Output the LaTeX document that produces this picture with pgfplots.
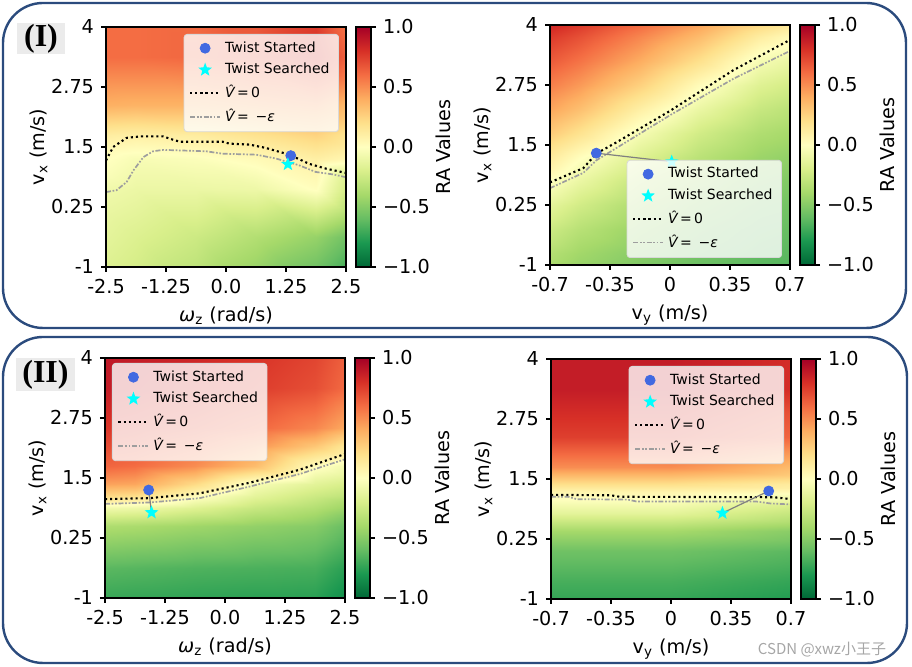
\documentclass[border=0pt]{standalone}
\usepackage{pgfplots}
\pgfplotsset{compat=1.18}
\usepackage{fontspec}
\setmainfont{DejaVu Sans}
\newfontfamily\serifbf{Liberation Serif}
\newfontfamily\cjk{Noto Sans CJK SC}
\newcommand\tfont{\fontsize{9.6}{11}\selectfont}
\newcommand\lfont{\fontsize{7}{8}\selectfont}
\definecolor{boxblue}{HTML}{2B4B7D}
\definecolor{started}{HTML}{4169E1}
\definecolor{aqua}{RGB}{0,255,255}

\pgfdeclareplotmark{fstar}{%
  \pgfpathmoveto{\pgfpointpolar{90}{\pgfplotmarksize}}%
  \pgfpathlineto{\pgfpointpolar{126}{0.42\pgfplotmarksize}}%
  \pgfpathlineto{\pgfpointpolar{162}{\pgfplotmarksize}}%
  \pgfpathlineto{\pgfpointpolar{198}{0.42\pgfplotmarksize}}%
  \pgfpathlineto{\pgfpointpolar{234}{\pgfplotmarksize}}%
  \pgfpathlineto{\pgfpointpolar{270}{0.42\pgfplotmarksize}}%
  \pgfpathlineto{\pgfpointpolar{306}{\pgfplotmarksize}}%
  \pgfpathlineto{\pgfpointpolar{342}{0.42\pgfplotmarksize}}%
  \pgfpathlineto{\pgfpointpolar{18}{\pgfplotmarksize}}%
  \pgfpathlineto{\pgfpointpolar{54}{0.42\pgfplotmarksize}}%
  \pgfpathclose
  \pgfusepathqfill
}

\pgfplotsset{
  colormap={rdylgnr}{rgb255=(0,104,55) rgb255=(26,152,80) rgb255=(102,189,99) rgb255=(166,217,106) rgb255=(217,239,139) rgb255=(255,255,191) rgb255=(254,224,139) rgb255=(253,174,97) rgb255=(244,109,67) rgb255=(215,48,39) rgb255=(165,0,38)},
  panel/.style={
    scale only axis, width=120pt, height=120pt,
    anchor=south west,
    axis on top,
    ymin=-1, ymax=4,
    ytick={-1,0.25,1.5,2.75,4}, yticklabels={-1,0.25,1.5,2.75,4},
    tick align=outside, xtick pos=bottom, ytick pos=left,
    major tick length=2.5pt,
    axis line style={line width=0.6pt},
    every tick/.style={black, line width=0.6pt},
    tick label style={font=\tfont},
    label style={font=\tfont},
    ylabel={v\textsubscript{x} (m/s)},
    ylabel style={yshift=-5pt},
    colormap name=rdylgnr, point meta min=-1, point meta max=1,
    colorbar,
    colorbar style={
      at={(parent axis.north east)}, anchor=north west, xshift=-3.5pt,
      width=7.5pt, scale only axis, height=120pt,
      ytick={-1,-0.5,0,0.5,1}, yticklabels={−1.0,−0.5,0.0,0.5,1.0},
      ylabel={RA Values},
      tick label style={font=\tfont}, label style={font=\tfont},
      ylabel style={yshift=4pt},
      tick align=outside, ytick pos=right, yticklabel pos=right,
      major tick length=2.5pt, axis line style={line width=0.6pt},
      every tick/.style={black, line width=0.6pt},
    },
    legend cell align=left,
    legend image code/.code={\draw[mark repeat=2,mark phase=2,##1] plot coordinates {(0pt,0pt) (7.5pt,0pt) (15pt,0pt)};},
    legend image post style={fill opacity=1, draw opacity=1},
    legend style={font=\lfont, fill=white, fill opacity=0.8, text opacity=1, draw=black!15, rounded corners=1.5pt, inner xsep=2.5pt, inner ysep=1.5pt, row sep=0pt},
  },
  leftpanel/.style={panel, xmin=-2.5, xmax=2.5,
    xtick={-2.5,-1.25,0,1.25,2.5}, xticklabels={-2.5,-1.25,0.0,1.25,2.5},
    xlabel={\textit{ω}\textsubscript{z} (rad/s)}},
  rightpanel/.style={panel, xmin=-0.7, xmax=0.7,
    xtick={-0.7,-0.35,0,0.35,0.7}, xticklabels={-0.7,-0.35,0,0.35,0.7},
    xlabel={v\textsubscript{y} (m/s)}},
  heat/.style={matrix plot*, shader=interp, point meta=explicit, forget plot},
  zeroline/.style={black, line width=1.05pt, dash pattern=on 1.05pt off 1.5pt},
  epsline/.style={black!38, line width=0.85pt, dash pattern=on 2.5pt off 0.85pt on 0.85pt off 0.85pt on 0.85pt off 0.85pt},
  link/.style={gray, line width=0.6pt, forget plot},
  startpt/.style={only marks, mark=*, mark size=2.5pt, color=started, mark options={draw=started, fill=started}},
  searchpt/.style={only marks, mark=fstar, mark size=3.6pt, color=aqua, mark options={fill=aqua}},
}

\begin{document}
\begin{tikzpicture}[x=1pt,y=1pt]
\useasboundingbox (0,0) rectangle (456,333.5);
% panel boxes
\draw[boxblue, line width=1.2pt, rounded corners=20pt] (1.5,332) rectangle (453,169.5);
\draw[boxblue, line width=1.2pt, rounded corners=20pt] (1.5,165) rectangle (453.5,2);

% ---------------- (I) left
\begin{axis}[leftpanel, at={(53pt,200pt)},
  legend style={at={(1,1)}, anchor=north east, xshift=-3.5pt, yshift=-3.5pt}]
\addplot[heat, mesh/cols=5] table[meta=c]{
x y c
-2.5 -1 -0.12
-1.25 -1 -0.25
0 -1 -0.36
1.25 -1 -0.52
2.5 -1 -0.68
-2.5 0.25 -0.10
-1.25 0.25 -0.18
0 0.25 -0.25
1.25 0.25 -0.35
2.5 0.25 -0.45
-2.5 1.0 -0.05
-1.25 1.0 -0.10
0 1.0 -0.10
1.25 1.0 -0.09
2.5 1.0 0.01
-2.5 1.5 0.05
-1.25 1.5 -0.04
0 1.5 -0.02
1.25 1.5 0.03
2.5 1.5 0.10
-2.5 2.0 0.13
-1.25 2.0 0.10
0 2.0 0.12
1.25 2.0 0.18
2.5 2.0 0.25
-2.5 2.75 0.40
-1.25 2.75 0.38
0 2.75 0.38
1.25 2.75 0.42
2.5 2.75 0.46
-2.5 4 0.60
-1.25 4 0.60
0 4 0.62
1.25 4 0.70
2.5 4 0.82
};
\addplot[zeroline, forget plot] coordinates {(-2.5,1.22) (-2.35,1.50) (-2.07,1.69) (-1.79,1.72) (-1.31,1.72) (-1.10,1.65) (-0.96,1.61) (-0.07,1.61) (0.07,1.57) (0.49,1.55) (0.83,1.48) (1.32,1.34) (1.73,1.15) (2.08,1.05) (2.5,0.96)};
\addplot[epsline, forget plot] coordinates {(-2.5,0.56) (-2.28,0.60) (-2.07,0.77) (-1.93,1.01) (-1.72,1.29) (-1.52,1.41) (-1.31,1.44) (-0.41,1.41) (-0.07,1.36) (0.63,1.34) (1.04,1.26) (1.52,1.12) (1.87,0.98) (2.22,0.93) (2.5,0.87)};
\addplot[link] coordinates {(1.35,1.32) (1.29,1.14)};
\addplot[startpt] coordinates {(1.35,1.32)};
\addlegendentry{Twist Started}
\addplot[searchpt] coordinates {(1.29,1.14)};
\addlegendentry{Twist Searched}
\addlegendimage{zeroline}
\addlegendentry{\textit{\^{V}}\,=\,0}
\addlegendimage{epsline}
\addlegendentry{\textit{\^{V}}\,= \,−\textit{ε}}
\end{axis}

% ---------------- (I) right
\begin{axis}[rightpanel, at={(275pt,201pt)},
  legend style={at={(1,0)}, anchor=south east, xshift=-4pt, yshift=3.5pt}]
\addplot[heat, mesh/cols=5] table[meta=c]{
x y c
-0.7 -1 -0.37
-0.35 -1 -0.47
0 -1 -0.54
0.35 -1 -0.60
0.7 -1 -0.64
-0.7 -0.5 -0.28
-0.35 -0.5 -0.41
0 -0.5 -0.49
0.35 -0.5 -0.56
0.7 -0.5 -0.61
-0.7 0 -0.17
-0.35 0 -0.33
0 0 -0.44
0.35 0 -0.52
0.7 0 -0.58
-0.7 0.5 -0.05
-0.35 0.5 -0.23
0 0.5 -0.37
0.35 0.5 -0.47
0.7 0.5 -0.54
-0.7 1 0.10
-0.35 1 -0.11
0 1 -0.28
0.35 1 -0.40
0.7 1 -0.49
-0.7 1.5 0.25
-0.35 1.5 0.01
0 1.5 -0.17
0.35 1.5 -0.32
0.7 1.5 -0.43
-0.7 2 0.39
-0.35 2 0.18
0 2 -0.05
0.35 2 -0.23
0.7 2 -0.36
-0.7 2.5 0.52
-0.35 2.5 0.33
0 2.5 0.10
0.35 2.5 -0.11
0.7 2.5 -0.27
-0.7 3 0.63
-0.35 3 0.46
0 3 0.26
0.35 3 0.02
0.7 3 -0.17
-0.7 3.5 0.74
-0.35 3.5 0.58
0 3.5 0.40
0.35 3.5 0.19
0.7 3.5 -0.05
-0.7 4 0.84
-0.35 4 0.69
0 4 0.52
0.35 4 0.34
0.7 4 0.11
};
\addplot[zeroline, forget plot] coordinates {(-0.7,0.72) (-0.505,1.02) (-0.43,1.32) (-0.31,1.56) (0,2.21) (0.37,3.06) (0.7,3.69)};
\addplot[epsline, forget plot] coordinates {(-0.7,0.60) (-0.505,0.92) (-0.43,1.18) (0,2.12) (0.37,2.88) (0.7,3.46)};
\addplot[link] coordinates {(-0.43,1.33) (0.01,1.15)};
\addplot[startpt] coordinates {(-0.43,1.33)};
\addlegendentry{Twist Started}
\addplot[searchpt] coordinates {(0.01,1.15)};
\addlegendentry{Twist Searched}
\addlegendimage{zeroline}
\addlegendentry{\textit{\^{V}}\,=\,0}
\addlegendimage{epsline}
\addlegendentry{\textit{\^{V}}\,= \,−\textit{ε}}
\end{axis}

% ---------------- (II) left
\begin{axis}[leftpanel, at={(52.5pt,34.5pt)},
  legend style={at={(0,1)}, anchor=north west, xshift=3.5pt, yshift=-2.5pt}]
\addplot[heat, mesh/cols=5] table[meta=c]{
x y c
-2.5 -1 -0.80
-1.25 -1 -0.82
0 -1 -0.83
1.25 -1 -0.84
2.5 -1 -0.84
-2.5 0.25 -0.62
-1.25 0.25 -0.64
0 0.25 -0.66
1.25 0.25 -0.67
2.5 0.25 -0.68
-2.5 0.75 -0.35
-1.25 0.75 -0.38
0 0.75 -0.42
1.25 0.75 -0.46
2.5 0.75 -0.50
-2.5 1.0 -0.06
-1.25 1.0 -0.09
0 1.0 -0.17
1.25 1.0 -0.27
2.5 1.0 -0.35
-2.5 1.25 0.25
-1.25 1.25 0.20
0 1.25 0.02
1.25 1.25 -0.14
2.5 1.25 -0.25
-2.5 1.5 0.45
-1.25 1.5 0.42
0 1.5 0.22
1.25 1.5 -0.04
2.5 1.5 -0.15
-2.5 2.0 0.65
-1.25 2.0 0.60
0 2.0 0.50
1.25 2.0 0.34
2.5 2.0 0.02
-2.5 2.35 0.73
-1.25 2.35 0.69
0 2.35 0.60
1.25 2.35 0.48
2.5 2.35 0.30
-2.5 2.75 0.80
-1.25 2.75 0.76
0 2.75 0.70
1.25 2.75 0.62
2.5 2.75 0.52
-2.5 4 0.90
-1.25 4 0.86
0 4 0.82
1.25 4 0.76
2.5 4 0.70
};
\addplot[zeroline, forget plot] coordinates {(-2.5,1.06) (-1.57,1.08) (-0.53,1.18) (0.51,1.40) (1.55,1.67) (2.5,2.0)};
\addplot[epsline, forget plot] coordinates {(-2.5,0.96) (-1.57,0.99) (-0.53,1.08) (0.51,1.32) (1.55,1.58) (2.5,1.89)};
\addplot[link] coordinates {(-1.59,1.25) (-1.53,0.78)};
\addplot[startpt] coordinates {(-1.59,1.25)};
\addlegendentry{Twist Started}
\addplot[searchpt] coordinates {(-1.53,0.78)};
\addlegendentry{Twist Searched}
\addlegendimage{zeroline}
\addlegendentry{\textit{\^{V}}\,=\,0}
\addlegendimage{epsline}
\addlegendentry{\textit{\^{V}}\,= \,−\textit{ε}}
\end{axis}

% ---------------- (II) right
\begin{axis}[rightpanel, at={(275.5pt,34pt)},
  legend style={at={(1,1)}, anchor=north east, xshift=-3.5pt, yshift=-3.5pt}]
\addplot[heat, mesh/cols=2] table[meta=c]{
x y c
-0.7 -1 -0.78
0.7 -1 -0.78
-0.7 -0.25 -0.68
0.7 -0.25 -0.68
-0.7 0.25 -0.57
0.7 0.25 -0.57
-0.7 0.6 -0.40
0.7 0.6 -0.40
-0.7 1.0 -0.14
0.7 1.0 -0.14
-0.7 1.15 0.0
0.7 1.15 0.0
-0.7 1.3 0.06
0.7 1.3 0.06
-0.7 1.5 0.20
0.7 1.5 0.20
-0.7 2.0 0.50
0.7 2.0 0.50
-0.7 2.75 0.75
0.7 2.75 0.75
-0.7 4 0.88
0.7 4 0.88
};
\addplot[zeroline, forget plot] coordinates {(-0.7,1.17) (-0.35,1.16) (-0.3,1.13) (0.6,1.12) (0.7,1.08)};
\addplot[epsline, forget plot] coordinates {(-0.7,1.13) (-0.6,1.13) (-0.55,1.08) (-0.25,1.07) (-0.2,1.03) (0.5,1.03) (0.58,0.99) (0.7,0.97)};
\addplot[link] coordinates {(0.57,1.25) (0.30,0.79)};
\addplot[startpt] coordinates {(0.57,1.25)};
\addlegendentry{Twist Started}
\addplot[searchpt] coordinates {(0.30,0.79)};
\addlegendentry{Twist Searched}
\addlegendimage{zeroline}
\addlegendentry{\textit{\^{V}}\,=\,0}
\addlegendimage{epsline}
\addlegendentry{\textit{\^{V}}\,= \,−\textit{ε}}
\end{axis}

% labels
\node[fill=black!8, inner sep=0pt, minimum width=24pt, minimum height=15.5pt, font=\serifbf\bfseries\fontsize{16}{18}\selectfont] at (20.5,314) {(I)};
\node[fill=black!8, inner sep=0pt, minimum width=29.5pt, minimum height=16.5pt, font=\serifbf\bfseries\fontsize{16}{18}\selectfont] at (22.75,146.25) {(II)};
\node[font=\cjk\fontsize{7.5}{9}\selectfont, text=black!35] at (411,8.5) {CSDN @xwz小王子};
\end{tikzpicture}
\end{document}
